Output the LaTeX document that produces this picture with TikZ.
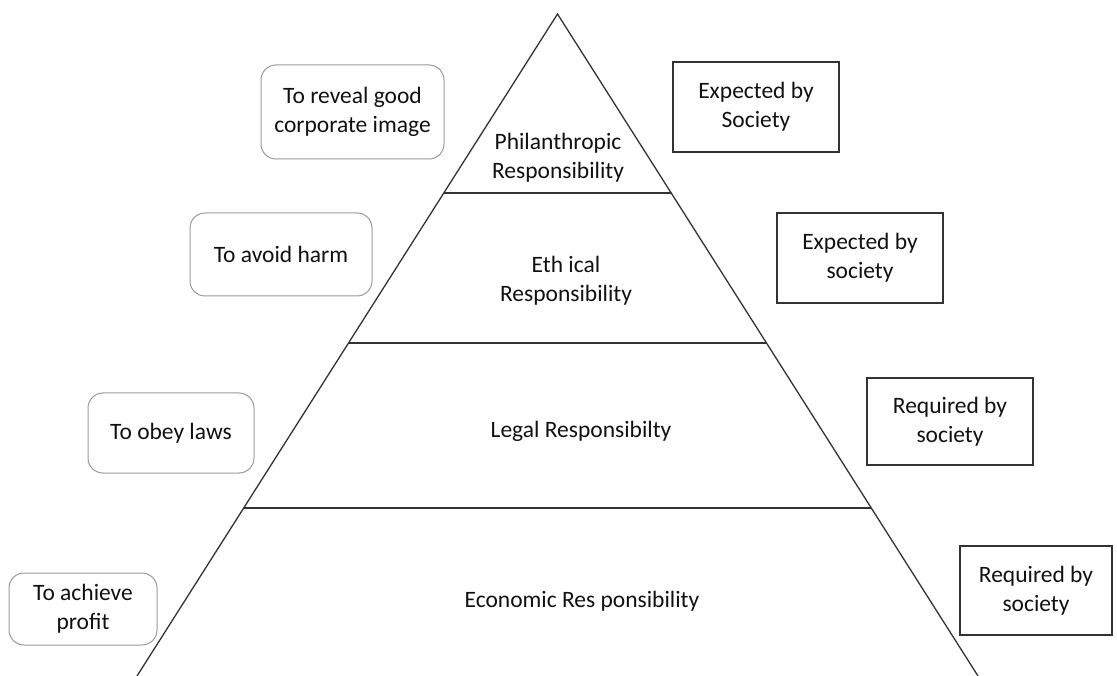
\documentclass[tikz,border=0pt]{standalone}
\usepackage{fontspec}
\setmainfont{Carlito}
\definecolor{linec}{HTML}{333333}
\definecolor{roundc}{HTML}{9A9A9A}
\definecolor{textc}{HTML}{111111}
\begin{document}
\begin{tikzpicture}[x=1pt,y=-1pt,
  txt/.style={font=\fontsize{23.5}{29}\selectfont, align=center, text=textc, inner sep=0pt},
  goalbox/.style={txt, draw=roundc, line width=1pt, rounded corners=15pt},
  expbox/.style={txt, draw=linec, line width=1.4pt},
  pyr/.style={draw=linec, line width=1.3pt}]
\useasboundingbox (0,0) rectangle (1117,676);
% pyramid
\coordinate (apex) at (557.5,14);
\coordinate (bl) at (137,676);
\coordinate (br) at (978,676);
\coordinate (l1) at (443.8,193); \coordinate (r1) at (671.2,193);
\coordinate (l2) at (348.6,343); \coordinate (r2) at (766.4,343);
\coordinate (l3) at (243.8,508); \coordinate (r3) at (871.2,508);
\draw[pyr] (bl) -- (apex) -- (br);
\draw[pyr] (l1) -- (r1);
\draw[pyr] (l2) -- (r2);
\draw[pyr] (l3) -- (r3);
% pyramid labels
\node[txt] (phil) at (558,158) {Philanthropic\\Responsibility};
\node[txt] (eth) at (566,281) {Eth ical\\Responsibility};
\node[txt] (legal) at (581,431) {Legal Responsibilty};
\node[txt] (econ) at (582,601) {Economic Res ponsibility};
% left goal boxes
\node[goalbox, minimum width=183pt, minimum height=94pt] (g1) at (352.5,112) {To reveal good\\corporate image};
\node[goalbox, minimum width=182pt, minimum height=83pt] (g2) at (281,254.5) {To avoid harm};
\node[goalbox, minimum width=166pt, minimum height=80pt] (g3) at (171,433) {To obey laws};
\node[goalbox, minimum width=148pt, minimum height=72pt] (g4) at (83,609) {To achieve\\profit};
% right boxes
\node[expbox, minimum width=166pt, minimum height=90pt] (e1) at (756,107) {Expected by\\Society};
\node[expbox, minimum width=166pt, minimum height=90pt] (e2) at (860,258) {Expected by\\society};
\node[expbox, minimum width=166pt, minimum height=87pt] (e3) at (950,421.5) {Required by\\society};
\node[expbox, minimum width=152pt, minimum height=89pt] (e4) at (1036,590.5) {Required by\\society};
\end{tikzpicture}
\end{document}
